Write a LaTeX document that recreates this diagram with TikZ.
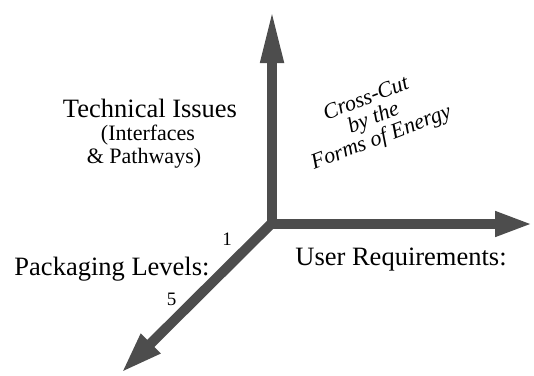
\documentclass[tikz,border=0pt]{standalone}
\usepackage{fontspec}
\setmainfont{Liberation Serif}
\usetikzlibrary{arrows.meta}
\definecolor{axisgray}{RGB}{77,77,77}
\tikzset{
  axis/.style={draw=axisgray, line width=10pt, line cap=butt},
  biglabel/.style={font=\fontsize{26.5}{28}\selectfont, inner sep=0pt},
  smalllabel/.style={font=\fontsize{22}{23}\selectfont, inner sep=0pt, anchor=base},
  ticklabel/.style={font=\fontsize{19}{20}\selectfont, inner sep=0pt}
}
\begin{document}
\begin{tikzpicture}[x=1pt,y=-1pt]
  \useasboundingbox (0,0) rectangle (534,375);
  % axis end points
  \coordinate (origin) at (271.5,223.5);
  \coordinate (top) at (272,8);
  \coordinate (right) at (533,224);
  \coordinate (low) at (121,373);
  \coordinate (vbase) at (272,229);
  \coordinate (hbase) at (267,224);
  % three axes
  \draw[axis, -{Triangle[length=55pt,width=21pt]}] (vbase) -- (top);
  \draw[axis, -{Triangle[length=38pt,width=23pt]}] (hbase) -- (right);
  \draw[axis, -{Triangle[length=42pt,width=25pt]}] (origin) -- (low);
  % labels
  \node[biglabel] (tech) at (150,108) {Technical Issues};
  \node[smalllabel] (iface) at (148,140) {(Interfaces};
  \node[smalllabel] (path) at (144,163) {\& Pathways)};
  \node[biglabel] (user) at (401,260) {User Requirements:};
  \node[biglabel] (pack) at (112,269) {Packaging Levels:};
  \node[ticklabel] (one) at (227,239) {1};
  \node[ticklabel] (five) at (171.5,299.5) {5};
  \node[inner sep=0pt, align=center, font=\fontsize{22}{21}\selectfont\itshape, rotate=21] (cross) at (374,119)
    {Cross-Cut\\by the\\Forms of Energy};
\end{tikzpicture}
\end{document}
